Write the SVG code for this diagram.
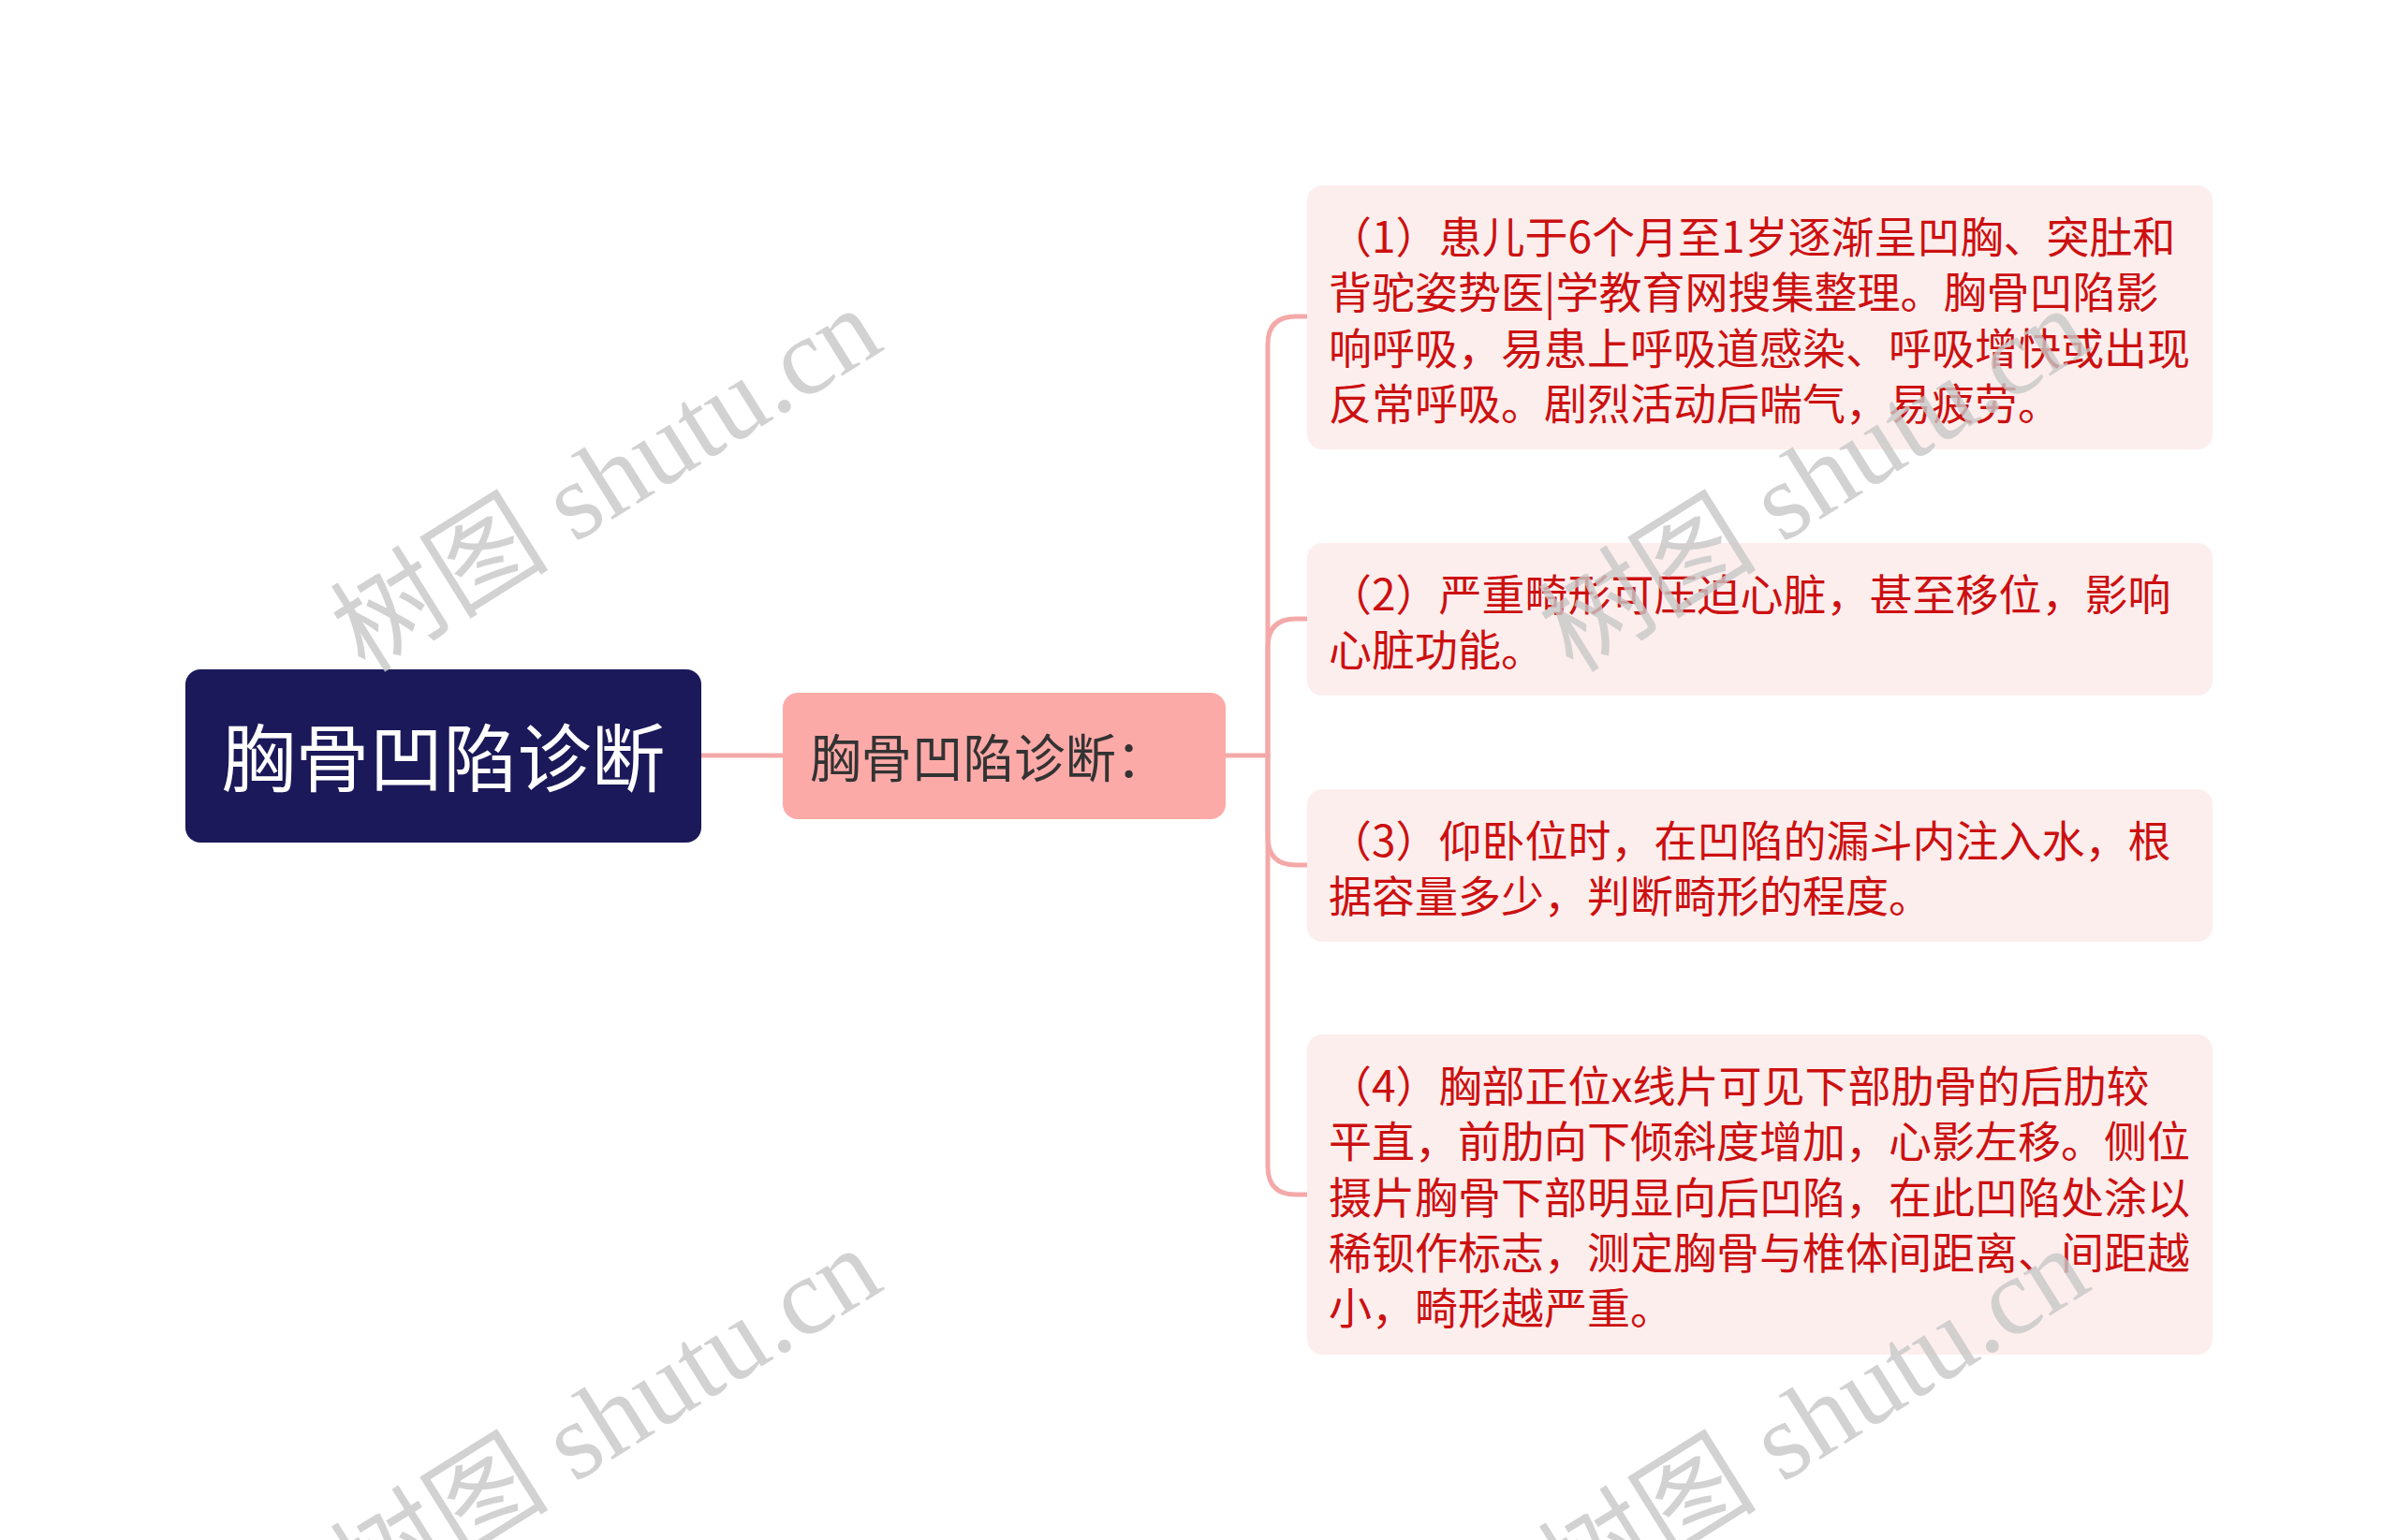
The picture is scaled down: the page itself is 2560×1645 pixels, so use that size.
<svg xmlns="http://www.w3.org/2000/svg" width="2560" height="1645" viewBox="0 0 2560 1645">
<style>
.cjk{font-family:"Noto Sans CJK SC","Noto Sans",sans-serif}
.leaf rect{fill:#fdeeee}
.leaf text{fill:#cc1010;font-size:46px}
.conn{fill:none;stroke:#f4a9a9;stroke-width:5;stroke-linecap:round}
.wm{font-family:"Liberation Serif","Noto Sans CJK SC",serif;font-size:117px;fill:#c8c8c8;opacity:0.8}
</style>
<rect width="2560" height="1645" fill="#ffffff"/>
<g id="connectors">
<path class="conn" d="M749 807 H836"/>
<path class="conn" d="M1309 807 H1354"/>
<path class="conn" d="M1354 807 V368 Q1354 338 1384 338 H1396"/>
<path class="conn" d="M1354 807 V691 Q1354 661 1384 661 H1396"/>
<path class="conn" d="M1354 807 V894 Q1354 924 1384 924 H1396"/>
<path class="conn" d="M1354 807 V1246 Q1354 1276 1384 1276 H1396"/>
</g>
<g id="root">
<rect x="198" y="715" width="551" height="185" rx="16" fill="#1b1959"/>
<text class="cjk" x="473.5" y="839.5" font-size="79" fill="#ffffff" text-anchor="middle">胸骨凹陷诊断</text>
</g>
<g id="branch">
<rect x="836" y="740" width="473" height="135" rx="16" fill="#fcaaa8"/>
<text class="cjk" x="865" y="829.5" font-size="54.5" fill="#333333">胸骨凹陷诊断：</text>
</g>
<g id="leaf1" class="leaf">
<rect x="1396" y="198" width="967" height="282" rx="16"/>
<text class="cjk"><tspan x="1419" y="270">（1）患儿于6个月至1岁逐渐呈凹胸、突肚和</tspan><tspan x="1419" y="329.3">背驼姿势医|学教育网搜集整理。胸骨凹陷影</tspan><tspan x="1419" y="388.6">响呼吸，易患上呼吸道感染、呼吸增快或出现</tspan><tspan x="1419" y="448">反常呼吸。剧烈活动后喘气，易疲劳。</tspan></text>
</g>
<g id="leaf2" class="leaf">
<rect x="1396" y="580" width="967" height="163" rx="16"/>
<text class="cjk"><tspan x="1419" y="652">（2）严重畸形可压迫心脏，甚至移位，影响</tspan><tspan x="1419" y="711.3">心脏功能。</tspan></text>
</g>
<g id="leaf3" class="leaf">
<rect x="1396" y="843" width="967" height="163" rx="16"/>
<text class="cjk"><tspan x="1419" y="915">（3）仰卧位时，在凹陷的漏斗内注入水，根</tspan><tspan x="1419" y="974.3">据容量多少，判断畸形的程度。</tspan></text>
</g>
<g id="leaf4" class="leaf">
<rect x="1396" y="1105" width="967" height="342" rx="16"/>
<text class="cjk"><tspan x="1419" y="1177">（4）胸部正位x线片可见下部肋骨的后肋较</tspan><tspan x="1419" y="1236.3">平直，前肋向下倾斜度增加，心影左移。侧位</tspan><tspan x="1419" y="1295.6">摄片胸骨下部明显向后凹陷，在此凹陷处涂以</tspan><tspan x="1419" y="1355">稀钡作标志，测定胸骨与椎体间距离、间距越</tspan><tspan x="1419" y="1414.3">小，畸形越严重。</tspan></text>
</g>
<g id="watermarks">
<text class="wm" transform="translate(390 720) rotate(-32)">树图 shutu.cn</text>
<text class="wm" transform="translate(1680 720) rotate(-32)">树图 shutu.cn</text>
<text class="wm" transform="translate(390 1724) rotate(-32)">树图 shutu.cn</text>
<text class="wm" transform="translate(1680 1724) rotate(-32)">树图 shutu.cn</text>
</g>
</svg>
